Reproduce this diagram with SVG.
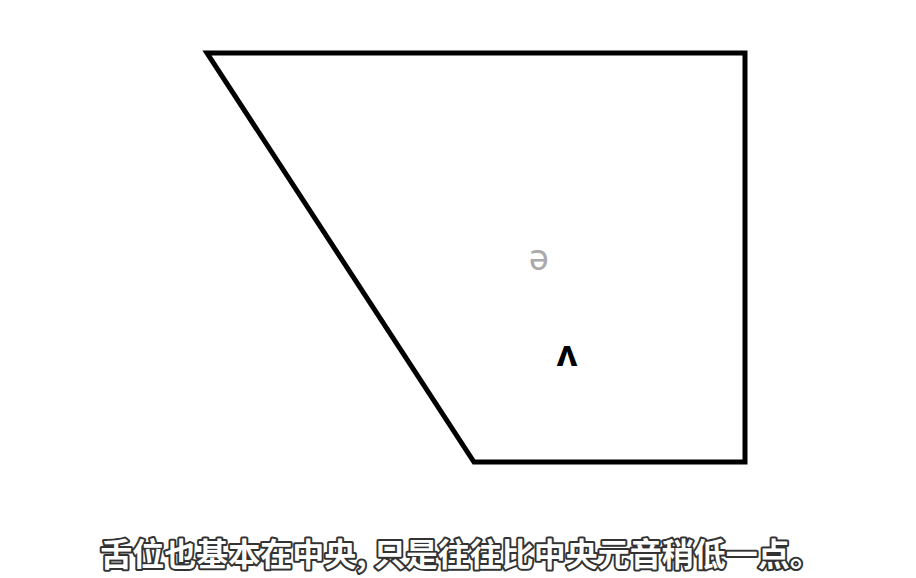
<svg xmlns="http://www.w3.org/2000/svg" width="916" height="578" viewBox="0 0 916 578">
<style>
.sym{font-family:"Noto Sans","DejaVu Sans",sans-serif;font-size:36px;text-anchor:middle}
.sub{font-family:"Noto Sans CJK SC",sans-serif;font-size:32px;font-weight:bold;fill:#fff;stroke:#333;stroke-width:4;paint-order:stroke;stroke-linejoin:round}
</style>
<rect width="916" height="578" fill="#fff"/>
<g id="chart">
<polygon points="207,53 745,53 745,462 474,462" fill="none" stroke="#000" stroke-width="5" stroke-linejoin="miter"/>
</g>
<g id="schwa"><text class="sym" x="539" y="270" fill="#aaa">ə</text></g>
<g id="wedge"><text class="sym" x="567" y="366" fill="#000" font-weight="bold">ʌ</text></g>
<g id="subtitle"><text class="sub" x="461" y="566" text-anchor="middle">舌位也基本在中央, 只是往往比中央元音稍低一点。</text></g>
</svg>
